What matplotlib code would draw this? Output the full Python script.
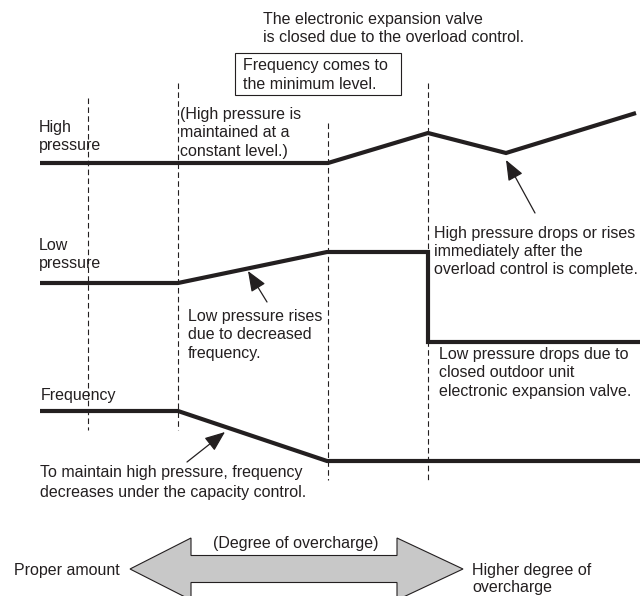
import matplotlib
matplotlib.use("Agg")
import matplotlib.pyplot as plt
from matplotlib.patches import Polygon, Rectangle

# pixel-space diagram (y grows downward)
W, H = 640, 596
INK = "#231f20"
FS = 11.5

# x positions of the phases (dashed guides)
phase_x = [88, 178, 328, 428]
guide_top = [98, 83, 123, 83]
guide_bot = [430, 430, 480, 480]

# curves (x, y in pixels)
high_x = [40, 328, 428, 506, 636]
high_y = [163, 163, 133, 153, 113]
low_x = [40, 178, 327, 428, 428, 640]
low_y = [283, 283, 252, 252, 342, 342]
freq_x = [40, 178, 327, 640]
freq_y = [411, 411, 461, 461]

# text lines: (x, baseline, text)
labels = [
    (263, 24, "The electronic expansion valve"),
    (263, 42, "is closed due to the overload control."),
    (243, 70, "Frequency comes to"),
    (243, 89, "the minimum level."),
    (39, 132, "High"),
    (39, 150, "pressure"),
    (180, 119, "(High pressure is"),
    (180, 137, "maintained at a"),
    (180, 156, "constant level.)"),
    (39, 250, "Low"),
    (39, 268, "pressure"),
    (434, 238, "High pressure drops or rises"),
    (434, 256, "immediately after the"),
    (434, 274, "overload control is complete."),
    (188, 321, "Low pressure rises"),
    (188, 339, "due to decreased"),
    (188, 358, "frequency."),
    (439, 359, "Low pressure drops due to"),
    (439, 377, "closed outdoor unit"),
    (439, 396, "electronic expansion valve."),
    (41, 400, "Frequency"),
    (40, 477, "To maintain high pressure, frequency"),
    (40, 497, "decreases under the capacity control."),
    (213, 548, "(Degree of overcharge)"),
    (14, 575, "Proper amount"),
    (472, 575, "Higher degree of"),
    (472, 592, "overcharge"),
]

# pointer arrows: (tail, head)
pointers = [
    ((535, 213), (506, 160)),
    ((267, 302), (248, 271)),
    ((187, 462), (225, 432)),
]

plt.rcParams["font.family"] = ["Liberation Sans", "DejaVu Sans"]

fig = plt.figure(figsize=(W / 100, H / 100), dpi=100)
ax = fig.add_axes([0, 0, 1, 1])
ax.set_xlim(0, W)
ax.set_ylim(H, 0)
ax.axis("off")

for x, t, b in zip(phase_x, guide_top, guide_bot):
    ax.plot([x, x], [t, b], color=INK, lw=0.8, linestyle=(0, (5, 3)))

for xs, ys in [(high_x, high_y), (low_x, low_y), (freq_x, freq_y)]:
    ax.plot(xs, ys, color=INK, lw=3, solid_joinstyle="miter", solid_capstyle="butt")

for x, y, s in labels:
    ax.text(x, y, s, fontsize=FS, color=INK, ha="left", va="baseline")

# box round "Frequency comes to the minimum level."
ax.add_patch(Rectangle((235, 53), 166, 42, fill=False, ec=INK, lw=0.8))

for tail, head in pointers:
    ax.annotate("", xy=head, xytext=tail,
                arrowprops=dict(arrowstyle="-|>,head_length=1.25,head_width=0.5",
                                color=INK, lw=0.9, shrinkA=0, shrinkB=0))

# big double arrow (degree of overcharge)
cy, hh, sh = 569, 31, 13.5
lt, ls, rs, rt = 130, 191, 397, 463
pts = [(lt, cy), (ls, cy - hh), (ls, cy - sh), (rs, cy - sh), (rs, cy - hh),
       (rt, cy), (rs, cy + hh), (rs, cy + sh), (ls, cy + sh), (ls, cy + hh)]
ax.add_patch(Polygon(pts, closed=True, fc="#c8c8c8", ec=INK, lw=0.8))

fig.savefig("out.png", dpi=100)
